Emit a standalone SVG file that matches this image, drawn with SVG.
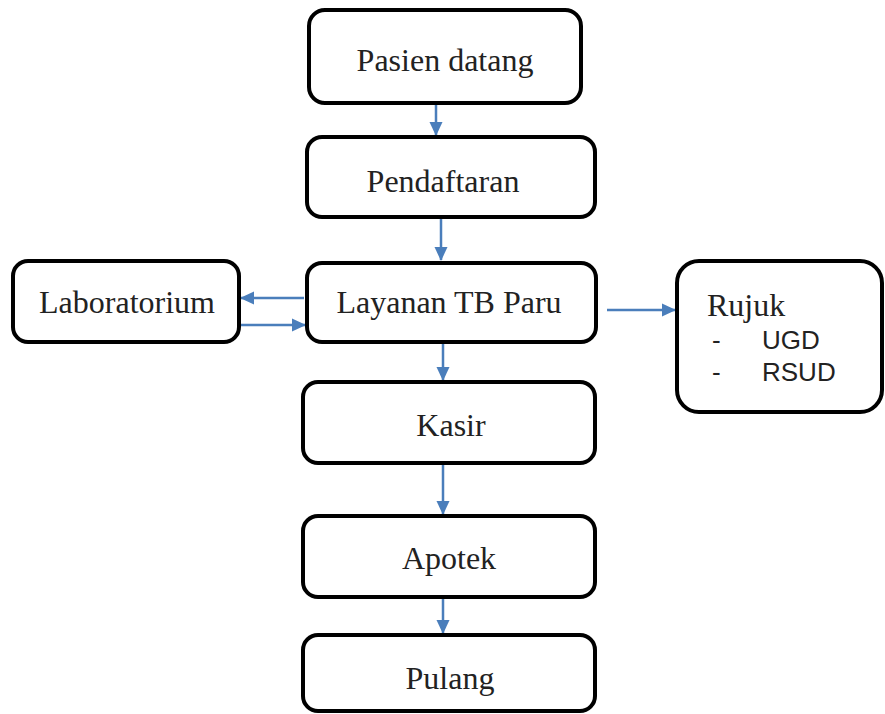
<svg xmlns="http://www.w3.org/2000/svg" width="885" height="714" viewBox="0 0 885 714">
<defs>
<style>
.box{fill:#fff;stroke:#000;stroke-width:4}
.t{font-family:"Liberation Serif","Times New Roman",serif;font-size:32px;fill:#222;text-anchor:middle}
.s{font-family:"Liberation Sans",Arial,sans-serif;font-size:26px;fill:#222}
.c{stroke:#4a7ebb;stroke-width:2.5;fill:none;marker-end:url(#ah)}
</style>
<marker id="ah" markerWidth="14" markerHeight="14" refX="13" refY="7" orient="auto" markerUnits="userSpaceOnUse" viewBox="0 0 14 14">
<path d="M0,0.5 L14,7 L0,13.5 Z" fill="#4a7ebb"/>
</marker>
</defs>
<rect width="885" height="714" fill="#fff"/>
<g id="connectors">
<line class="c" x1="436" y1="104" x2="436" y2="135"/>
<line class="c" x1="441" y1="218" x2="441" y2="260"/>
<line class="c" x1="304" y1="298" x2="241" y2="298"/>
<line class="c" x1="241" y1="325" x2="305" y2="325"/>
<line class="c" x1="607" y1="310" x2="675" y2="310"/>
<line class="c" x1="443" y1="344" x2="443" y2="380"/>
<line class="c" x1="443" y1="464" x2="443" y2="514"/>
<line class="c" x1="443" y1="598" x2="443" y2="633"/>
</g>
<g id="pasien"><rect class="box" x="309" y="10" width="272" height="93" rx="16"/><text class="t" x="445" y="71">Pasien datang</text></g>
<g id="pendaftaran"><rect class="box" x="307" y="137" width="288" height="80" rx="15"/><text class="t" x="443" y="192">Pendaftaran</text></g>
<g id="layanan"><rect class="box" x="307" y="263" width="289" height="79" rx="15"/><text class="t" x="449" y="313">Layanan TB Paru</text></g>
<g id="laboratorium"><rect class="box" x="13" y="261" width="226" height="81" rx="15"/><text class="t" x="127" y="313">Laboratorium</text></g>
<g id="rujuk"><rect class="box" x="677" y="261" width="205" height="151" rx="22"/>
<text class="t" x="707" y="316" style="text-anchor:start">Rujuk</text>
<text class="s" x="712" y="349">-</text><text class="s" x="762" y="349">UGD</text>
<text class="s" x="712" y="381">-</text><text class="s" x="762" y="381">RSUD</text></g>
<g id="kasir"><rect class="box" x="303" y="382" width="292" height="81" rx="15"/><text class="t" x="451" y="436">Kasir</text></g>
<g id="apotek"><rect class="box" x="303" y="516" width="292" height="81" rx="15"/><text class="t" x="449" y="569">Apotek</text></g>
<g id="pulang"><rect class="box" x="303" y="635" width="292" height="76" rx="15"/><text class="t" x="450" y="689">Pulang</text></g>
</svg>
